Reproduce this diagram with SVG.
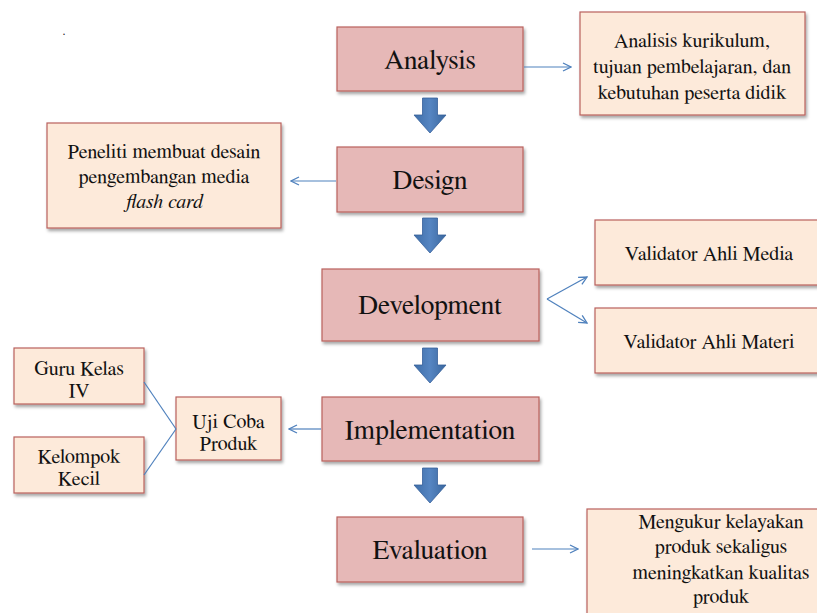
<svg xmlns="http://www.w3.org/2000/svg" width="817" height="613" viewBox="0 0 817 613">
<defs>
<filter id="sh" x="-10%" y="-10%" width="130%" height="140%">
<feDropShadow dx="1.5" dy="2.5" stdDeviation="1.8" flood-color="#000" flood-opacity="0.35"/>
</filter>
<linearGradient id="bg" x1="0" y1="0" x2="1" y2="0">
<stop offset="0" stop-color="#3F6EA8"/>
<stop offset="0.5" stop-color="#5585C2"/>
<stop offset="1" stop-color="#3A679E"/>
</linearGradient>
<marker id="ah" viewBox="0 0 10 10" refX="9" refY="5" markerWidth="10" markerHeight="10" markerUnits="userSpaceOnUse" orient="auto">
<path d="M1,1 L9,5 L1,9" fill="none" stroke="#4F81BD" stroke-width="1.3"/>
</marker>
<path id="barrow" d="M-7.5,0 H7.5 V17 H16 L0,35 L-16,17 H-7.5 Z"/>
</defs>
<style>
.main{fill:#E6B8B7;stroke:#B9615D;stroke-width:1.2;filter:url(#sh)}
.side{fill:#FDEADA;stroke:#B9615D;stroke-width:1.2;filter:url(#sh)}
text{font-family:'FreeSerif','DejaVu Serif Condensed',serif;fill:#111;text-anchor:middle}
.mt{font-size:27.5px}
.st{font-size:20px}
.con{stroke:#4F81BD;stroke-width:1.2;fill:none}
.blk{fill:url(#bg);stroke:#36609A;stroke-width:0.8}
</style>
<rect width="817" height="613" fill="#fff"/>
<text x="64" y="35" font-size="12" fill="#333">.</text>

<g id="analysis"><rect class="main" x="337" y="27" width="186" height="64"/><text class="mt" x="430" y="69">Analysis</text></g>
<g id="analysis-note"><rect class="side" x="580" y="12" width="225" height="103"/>
<text class="st" x="692" y="47">Analisis kurikulum,</text>
<text class="st" x="692" y="73">tujuan pembelajaran, dan</text>
<text class="st" x="692" y="99">kebutuhan peserta didik</text></g>

<g id="design"><rect class="main" x="337" y="147" width="186" height="65"/><text class="mt" x="430" y="189">Design</text></g>
<g id="design-note"><rect class="side" x="47" y="123" width="234" height="105"/>
<text class="st" x="164" y="158">Peneliti membuat desain</text>
<text class="st" x="164" y="183">pengembangan media</text>
<text class="st" x="164" y="208" font-style="italic">flash card</text></g>

<g id="development"><rect class="main" x="322" y="269" width="217" height="72"/><text class="mt" x="430" y="314">Development</text></g>
<g id="validator-media"><rect class="side" x="595" y="220" width="228" height="65"/><text class="st" x="709" y="260">Validator Ahli Media</text></g>
<g id="validator-materi"><rect class="side" x="595" y="308" width="228" height="65"/><text class="st" x="709" y="348">Validator Ahli Materi</text></g>

<g id="implementation"><rect class="main" x="322" y="397" width="217" height="64"/><text class="mt" x="430" y="439">Implementation</text></g>
<g id="uji-coba"><rect class="side" x="176" y="397" width="105" height="63"/>
<text class="st" x="228.5" y="428">Uji Coba</text><text class="st" x="228.5" y="450">Produk</text></g>
<g id="guru"><rect class="side" x="14" y="348" width="130" height="56"/>
<text class="st" x="79" y="375">Guru Kelas</text><text class="st" x="79" y="397">IV</text></g>
<g id="kelompok"><rect class="side" x="14" y="437" width="130" height="56"/>
<text class="st" x="79" y="463">Kelompok</text><text class="st" x="79" y="485">Kecil</text></g>

<g id="evaluation"><rect class="main" x="337" y="517" width="186" height="65"/><text class="mt" x="430" y="559">Evaluation</text></g>
<g id="evaluation-note"><rect class="side" x="587" y="509" width="260" height="120"/>
<text class="st" x="721" y="528">Mengukur kelayakan</text>
<text class="st" x="721" y="553">produk sekaligus</text>
<text class="st" x="721" y="579">meningkatkan kualitas</text>
<text class="st" x="721" y="603">produk</text></g>

<g id="connectors">
<use href="#barrow" class="blk" x="430" y="98"/>
<use href="#barrow" class="blk" x="430" y="218"/>
<use href="#barrow" class="blk" x="430" y="348"/>
<use href="#barrow" class="blk" x="430" y="468"/>
<line class="con" x1="524" y1="67" x2="571" y2="67" marker-end="url(#ah)"/>
<line class="con" x1="336" y1="181" x2="291" y2="181" marker-end="url(#ah)"/>
<line class="con" x1="547" y1="299" x2="587" y2="277" marker-end="url(#ah)"/>
<line class="con" x1="547" y1="299" x2="587" y2="323" marker-end="url(#ah)"/>
<line class="con" x1="321" y1="429" x2="289" y2="429" marker-end="url(#ah)"/>
<line class="con" x1="144" y1="382" x2="176" y2="429"/>
<line class="con" x1="144" y1="475" x2="176" y2="429"/>
<line class="con" x1="532" y1="549" x2="578" y2="549" marker-end="url(#ah)"/>
</g>
</svg>
